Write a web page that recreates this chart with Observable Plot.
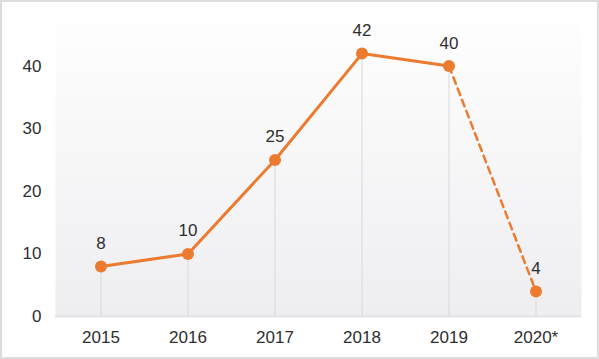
<!DOCTYPE html>
<html>
<head>
<meta charset="utf-8">
<script src="https://cdn.jsdelivr.net/npm/d3@7"></script>
<script src="https://cdn.jsdelivr.net/npm/@observablehq/plot@0.6"></script>
<style>
  html, body { margin: 0; padding: 0; background: #fff; }
  #box { box-sizing: border-box; width: 599px; height: 359px; border: 2px solid #dcdcdc; overflow: hidden; }
  svg { display: block; }
</style>
</head>
<body>
<div id="box"></div>
<script>
const years = ["2015", "2016", "2017", "2018", "2019", "2020*"];
const values = [8, 10, 25, 42, 40, 4];
const yTicks = [0, 10, 20, 30, 40];

const data = years.map((y, i) => ({year: y, value: values[i]}));
const solid = data.slice(0, 5);
const dashed = data.slice(4, 6);

const orange = "#ec7b2f";
const font = "'Liberation Sans', Arial, sans-serif";

const chart = Plot.plot({
  width: 595,
  height: 355,
  marginLeft: 53,
  marginRight: 16,
  marginTop: 1,
  marginBottom: 41,
  style: {fontFamily: font, fontSize: "17px", color: "#2e2e30", background: "transparent"},
  x: {type: "band", domain: years, padding: 0, label: null, tickSize: 0, tickPadding: 14},
  y: {domain: [0, 50], ticks: yTicks, label: null, tickSize: 0, tickPadding: 14},
  marks: [
    Plot.frame({fill: "url(#bggrad)", stroke: null}),
    Plot.ruleX(data, {x: "year", y1: 0, y2: "value", stroke: "#d9d9dc", strokeWidth: 1}),
    Plot.ruleY([0], {stroke: "#e0dfe3", strokeWidth: 1.5}),
    Plot.line(solid, {x: "year", y: "value", stroke: orange, strokeWidth: 3}),
    Plot.line(dashed, {x: "year", y: "value", stroke: orange, strokeWidth: 2.5, strokeDasharray: "7,5"}),
    Plot.dot(data, {x: "year", y: "value", r: 6, fill: orange, stroke: null}),
    Plot.text(data, {x: "year", y: "value", text: d => String(d.value), dy: -23, fill: "#2e2e30", fontSize: 17})
  ]
});

const ns = "http://www.w3.org/2000/svg";
const defs = document.createElementNS(ns, "defs");
const grad = document.createElementNS(ns, "linearGradient");
grad.setAttribute("id", "bggrad");
grad.setAttribute("x1", "0"); grad.setAttribute("y1", "0");
grad.setAttribute("x2", "0"); grad.setAttribute("y2", "1");
[["0%", "#ffffff"], ["100%", "#eeedf0"]].forEach(([o, c]) => {
  const s = document.createElementNS(ns, "stop");
  s.setAttribute("offset", o);
  s.setAttribute("stop-color", c);
  grad.appendChild(s);
});
defs.appendChild(grad);
chart.insertBefore(defs, chart.firstChild);

document.getElementById("box").appendChild(chart);
</script>
</body>
</html>
